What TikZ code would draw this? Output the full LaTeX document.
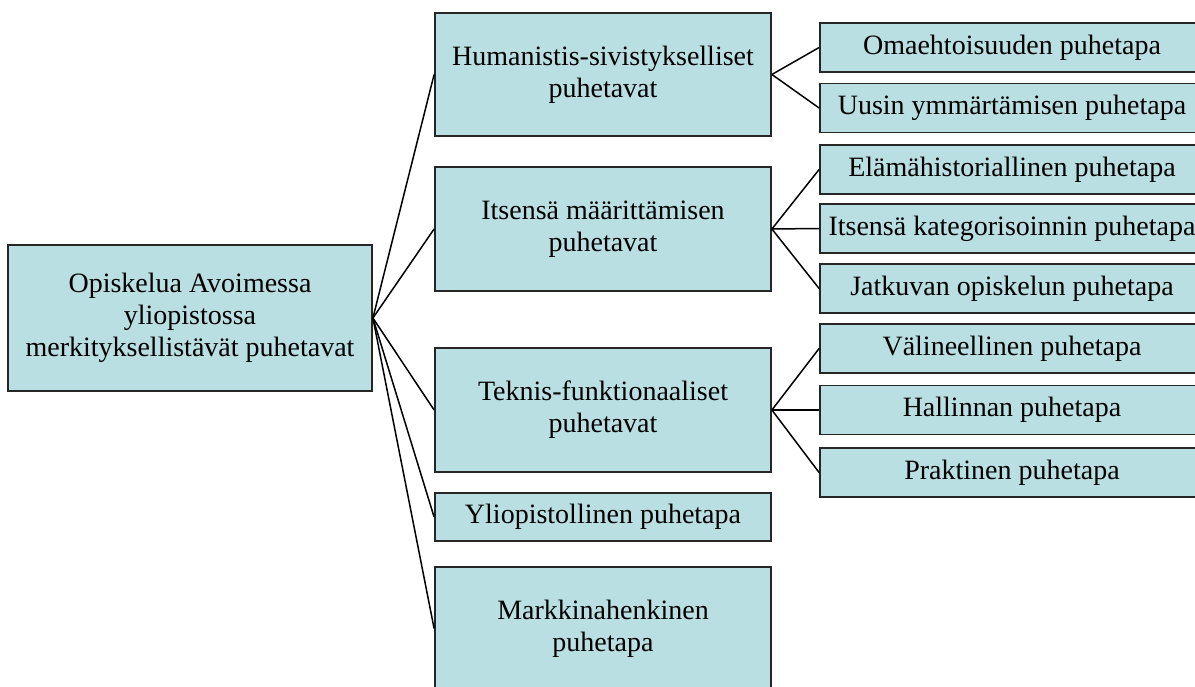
\documentclass[tikz,border=0pt]{standalone}
\usepackage{fontspec}
\setmainfont{Liberation Serif}
\definecolor{boxfill}{HTML}{B9DFE2}
\begin{document}
\begin{tikzpicture}[x=1pt,y=-1pt,
  box/.style={draw=black!85,line width=1.8pt,fill=boxfill,align=center,inner sep=0pt,
    font=\fontsize{28}{32}\selectfont},
  lvlone/.style={box,minimum width=336pt},
  lvltwo/.style={box,minimum width=384pt,minimum height=49pt},
  conn/.style={line width=1.5pt,black}]
\useasboundingbox (0,0) rectangle (1195,687);
\clip (0,0) rectangle (1195,687);
\fill[white] (0,0) rectangle (1195,687);
% root
\node[box,minimum width=364pt,minimum height=146pt] (root) at (190,318)
  {Opiskelua Avoimessa\\yliopistossa\\merkityksellistävät puhetavat};
% level 1
\node[lvlone,minimum height=123pt] (hum) at (603,74.5) {Humanistis-sivistykselliset\\puhetavat};
\node[lvlone,minimum height=124pt] (its) at (603,229) {Itsensä määrittämisen\\puhetavat};
\node[lvlone,minimum height=124pt] (tek) at (603,410) {Teknis-funktionaaliset\\puhetavat};
\node[lvlone,minimum height=48pt] (yli) at (603,517) {Yliopistollinen puhetapa};
\node[lvlone,minimum height=123pt] (mar) at (603,628.5) {Markkinahenkinen\\puhetapa};
% level 2
\node[lvltwo] (oma) at (1012,47.5) {Omaehtoisuuden puhetapa};
\node[lvltwo] (uus) at (1012,108) {Uusin ymmärtämisen puhetapa};
\node[lvltwo] (ela) at (1012,169.5) {Elämähistoriallinen puhetapa};
\node[lvltwo] (kat) at (1012,228.5) {Itsensä kategorisoinnin puhetapa};
\node[lvltwo] (jat) at (1012,288.5) {Jatkuvan opiskelun puhetapa};
\node[lvltwo] (val) at (1012,348.5) {Välineellinen puhetapa};
\node[lvltwo] (hal) at (1012,410) {Hallinnan puhetapa};
\node[lvltwo] (pra) at (1012,472.5) {Praktinen puhetapa};
% connectors
\foreach \t in {hum,its,tek,yli,mar} \draw[conn] (root.east) -- (\t.west);
\foreach \t in {oma,uus} \draw[conn] (hum.east) -- (\t.west);
\foreach \t in {ela,kat,jat} \draw[conn] (its.east) -- (\t.west);
\foreach \t in {val,hal,pra} \draw[conn] (tek.east) -- (\t.west);
\end{tikzpicture}
\end{document}
